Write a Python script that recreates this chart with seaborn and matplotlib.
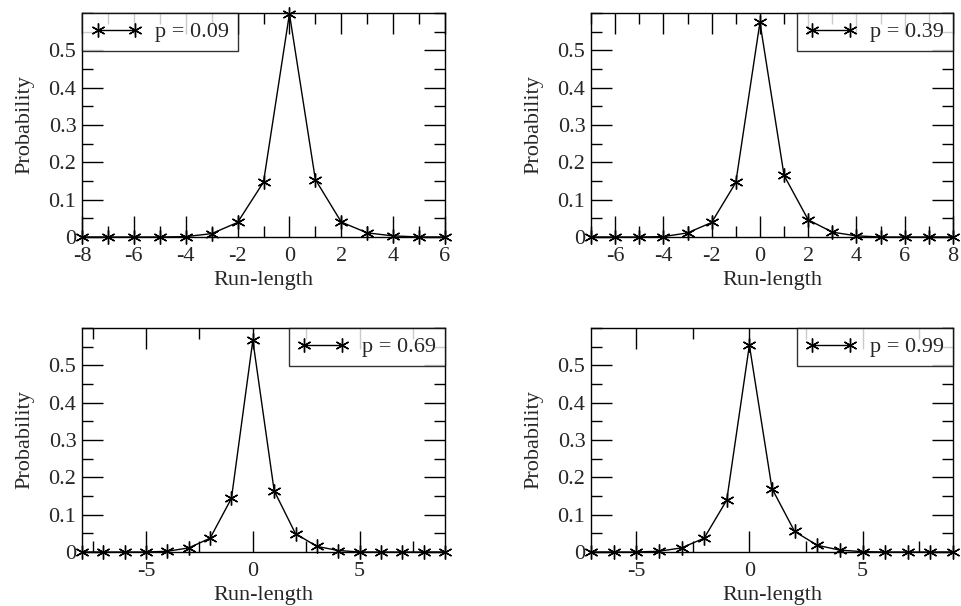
import numpy as np
import pandas as pd
import matplotlib
matplotlib.use("Agg")
import matplotlib.pyplot as plt
from matplotlib.ticker import MultipleLocator, FixedLocator
import seaborn as sns

# ---- data ----
x1 = list(range(-8, 7))
p1 = [0, 0, 0, 0, 0.001, 0.009, 0.039, 0.147, 0.598, 0.154, 0.040, 0.011, 0.003, 0, 0]
x2 = list(range(-7, 9))
p2 = [0, 0, 0, 0.001, 0.011, 0.039, 0.146, 0.575, 0.165, 0.046, 0.013, 0.003, 0, 0, 0, 0]
x3 = list(range(-8, 10))
p3 = [0, 0, 0, 0, 0.002, 0.011, 0.037, 0.144, 0.567, 0.164, 0.049, 0.015, 0.004, 0, 0, 0, 0, 0]
x4 = list(range(-7, 10))
p4 = [0, 0, 0, 0.002, 0.011, 0.037, 0.139, 0.554, 0.170, 0.055, 0.018, 0.005, 0.001, 0, 0, 0, 0]
labels = ["p = 0.09", "p = 0.39", "p = 0.69", "p = 0.99"]
yticks = [0, 0.1, 0.2, 0.3, 0.4, 0.5]
ytick_labels = ["0", "0.1", "0.2", "0.3", "0.4", "0.5"]

sns.set_theme(style="ticks")
plt.rcParams["font.family"] = ["Liberation Serif", "DejaVu Serif"]
plt.rcParams["axes.unicode_minus"] = False
plt.rcParams["axes.edgecolor"] = "black"
plt.rcParams["axes.linewidth"] = 1.0

fig = plt.figure(figsize=(9.61, 6.06), dpi=100)
W, H = 961, 606
boxes = [(82, 13, 445, 237), (591, 13, 953, 237), (82, 328, 445, 552), (591, 328, 953, 552)]
xs = [x1, x2, x3, x4]
ps = [p1, p2, p3, p4]
xlims = [(-8, 6), (-7, 8), (-8, 9), (-7, 9)]
xmajor = [2, 2, 5, 5]
xminor = [1, 1, 2.5, 2.5]
legloc = ["upper left", "upper right", "upper right", "upper right"]

FS = 16
for i in range(4):
    l, t, r, b = boxes[i]
    ax = fig.add_axes([l / W, 1 - b / H, (r - l) / W, (b - t) / H])
    df = pd.DataFrame({"Run-length": xs[i], "Probability": ps[i]})
    sns.lineplot(data=df, x="Run-length", y="Probability", ax=ax, color="black",
                 linewidth=1.0, marker=(6, 2, 0), markersize=10,
                 markeredgecolor="black", markeredgewidth=1.0,
                 label=labels[i], clip_on=False, zorder=5)
    ax.set_xlim(*xlims[i])
    ax.set_ylim(0, 0.6)
    ax.xaxis.set_major_locator(MultipleLocator(xmajor[i]))
    ax.xaxis.set_minor_locator(MultipleLocator(xminor[i]))
    ax.yaxis.set_major_locator(FixedLocator(yticks))
    ax.set_yticklabels(ytick_labels)
    ax.yaxis.set_minor_locator(MultipleLocator(0.05))
    ax.tick_params(axis="both", which="major", direction="in", length=15, width=1.0,
                   top=True, right=True, labelsize=FS, color="black")
    ax.tick_params(axis="x", which="major", pad=7)
    ax.tick_params(axis="y", which="major", pad=4)
    ax.tick_params(axis="both", which="minor", direction="in", length=8, width=1.0,
                   top=True, right=True, color="black")
    ax.set_xlabel("Run-length", fontsize=FS, labelpad=4)
    ax.set_ylabel("Probability", fontsize=FS, labelpad=10)
    for s in ax.spines.values():
        s.set_visible(True)
        s.set_color("black")
        s.set_linewidth(1.0)
    leg = ax.legend(loc=legloc[i], fontsize=FS, numpoints=2, frameon=True,
                    fancybox=False, borderaxespad=0, borderpad=0.4,
                    handlelength=2.3, handletextpad=0.6)
    leg.get_frame().set_edgecolor("black")
    leg.get_frame().set_linewidth(1.0)
    leg.set_zorder(10)

fig.savefig("out.png", dpi=100)
